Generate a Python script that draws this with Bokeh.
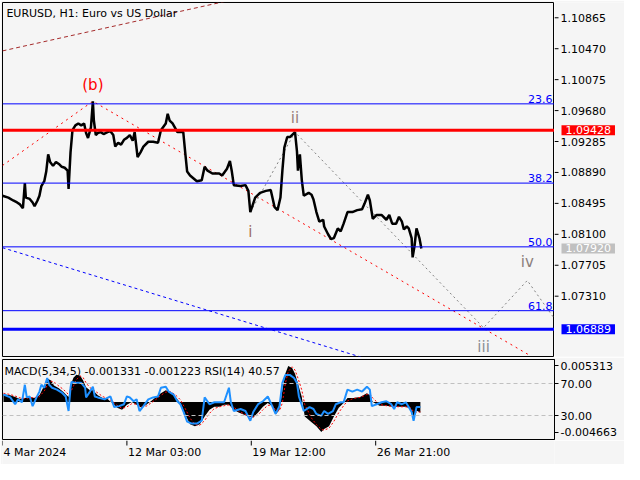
from bokeh.plotting import figure
from bokeh.layouts import column, row
from bokeh.models import Range1d, Span, Label, FixedTicker
from bokeh.core.properties import value
from bokeh.embed import file_html
from bokeh.resources import INLINE

BG = "#f5f5f5"
FONT = "DejaVu Sans"

# ---------------- data ----------------
price_bar = [0, 6, 11, 15, 18, 21, 23, 24, 28, 31, 33, 36, 38, 40, 43, 45, 47, 49, 52, 55,
             58, 61, 64, 67, 68, 70, 72, 75, 78, 81, 84, 86, 88, 91, 93, 94, 96, 98, 101, 104,
             108, 111, 114, 116, 119, 122, 125, 128, 131, 134, 136, 139, 142, 145, 150, 155, 160, 163, 168, 170,
             172, 175, 180, 186, 188, 190, 193, 200, 205, 208, 211, 216, 223, 226, 231, 234, 236, 238, 245, 250,
             253, 255, 260, 265, 271, 276, 280, 283, 286, 288, 290, 293, 296, 301, 303, 304, 306, 308, 310, 315,
             318, 320, 323, 326, 330, 331, 335, 338, 341, 345, 348, 351, 355, 360, 365, 370, 373, 376, 378, 381,
             385, 390, 395, 398, 401, 405, 408, 411, 413, 416, 418, 421, 422, 424, 426, 429, 431]
price_close = [1.08593, 1.08569, 1.08532, 1.08507, 1.08482, 1.08433, 1.08753, 1.08569, 1.08552, 1.08507,
               1.08458, 1.08532, 1.08593, 1.08716, 1.08778, 1.08901, 1.09122, 1.09024, 1.08974, 1.09024,
               1.08999, 1.08962, 1.08950, 1.08913, 1.08679, 1.09147, 1.09430, 1.09491, 1.09516, 1.09491,
               1.09516, 1.09393, 1.09331, 1.09466, 1.09799, 1.09553, 1.09368, 1.09393, 1.09405, 1.09380,
               1.09405, 1.09417, 1.09368, 1.09220, 1.09270, 1.09245, 1.09307, 1.09331, 1.09368, 1.09294,
               1.09405, 1.09085, 1.09147, 1.09220, 1.09282, 1.09282, 1.09270, 1.09430, 1.09516, 1.09639,
               1.09553, 1.09516, 1.09405, 1.09405, 1.09147, 1.08901, 1.08851, 1.08778, 1.08790, 1.08962,
               1.08913, 1.08876, 1.08876, 1.08851, 1.08938, 1.09036, 1.08901, 1.08728, 1.08716, 1.08728,
               1.08655, 1.08384, 1.08569, 1.08630, 1.08655, 1.08667, 1.08446, 1.08409, 1.08569, 1.08913,
               1.09208, 1.09343, 1.09343, 1.09405, 1.09159, 1.08913, 1.09122, 1.08790, 1.08593, 1.08630,
               1.08605, 1.08544, 1.08384, 1.08261, 1.08286, 1.08200, 1.08101, 1.08040, 1.08052, 1.08175,
               1.08138, 1.08236, 1.08384, 1.08384, 1.08409, 1.08421, 1.08507, 1.08605, 1.08532, 1.08298,
               1.08347, 1.08347, 1.08286, 1.08347, 1.08236, 1.08236, 1.08323, 1.08261, 1.08163, 1.08200,
               1.08175, 1.08052, 1.07806, 1.07954, 1.08175, 1.08052, 1.07920]

price_ticks = [1.10865, 1.10470, 1.10075, 1.09680, 1.09285, 1.08890, 1.08495, 1.08100, 1.07705, 1.07310]
price_tick_labels = ["1.10865", "1.10470", "1.10075", "1.09680", "1.09285",
                     "1.08890", "1.08495", "1.08100", "1.07705", "1.07310"]

fib_names = ["23.6", "38.2", "50.0", "61.8"]
fib_prices = [1.09766, 1.08754, 1.07940, 1.07125]
level_red = 1.09428
level_blue = 1.06889
bid_price = 1.07920

upper_bar = [0, 240]
upper_price = [1.10442, 1.11104]
b_bar = [0, 93, 543]
b_price = [1.08979, 1.09799, 1.06551]
lower_bar = [0, 380]
lower_price = [1.07929, 1.06490]
wave_bar = [255, 301, 495, 540, 585]
wave_price = [1.08384, 1.09405, 1.06908, 1.07511, 1.06724]
wave_names = ["i", "ii", "iii", "iv"]

macd_bar = [1, 8, 13, 18, 23, 28, 33, 38, 43, 46, 50, 53, 58, 63, 66, 68, 70, 73, 76, 80,
            83, 86, 90, 93, 98, 103, 108, 113, 118, 123, 128, 133, 138, 143, 148, 153, 158, 163, 168, 173,
            178, 183, 188, 193, 198, 203, 208, 213, 218, 223, 228, 233, 238, 243, 248, 253, 258, 263, 268, 273,
            278, 281, 285, 288, 291, 294, 298, 301, 304, 308, 311, 318, 323, 328, 331, 336, 341, 346, 351, 355,
            361, 368, 375, 378, 381, 388, 395, 401, 408, 415, 420, 423, 426, 430]
macd_main = [0.00099, 0.00087, 0.00063, 0.00039, 0.00051, 0.00063, 0.00051, 0.00087, 0.00208, 0.00293,
             0.00268, 0.00208, 0.00172, 0.00123, 0.00087, 0.00063, 0.00208, 0.00305, 0.00341, 0.00329,
             0.00268, 0.00184, 0.00147, 0.00147, 0.00087, 0.00051, 0.00039, -0.00010, -0.00070, -0.00094,
             -0.00034, 0.00002, -0.00034, -0.00070, -0.00034, 0.00015, 0.00063, 0.00111, 0.00147, 0.00123,
             0.00063, -0.00010, -0.00155, -0.00276, -0.00300, -0.00276, -0.00179, -0.00094, -0.00058, -0.00058,
             -0.00034, -0.00034, -0.00094, -0.00131, -0.00155, -0.00179, -0.00191, -0.00131, -0.00058, -0.00010,
             -0.00058, -0.00155, -0.00094, 0.00147, 0.00353, 0.00450, 0.00426, 0.00353, 0.00232, 0.00063,
             -0.00179, -0.00251, -0.00300, -0.00372, -0.00336, -0.00300, -0.00179, -0.00070, -0.00010, 0.00051,
             0.00051, 0.00063, 0.00111, 0.00087, 0.00002, -0.00046, -0.00046, -0.00058, -0.00058, -0.00058,
             -0.00082, -0.00179, -0.00106, -0.00133]
macd_signal = [0.00110, 0.00095, 0.00075, 0.00052, 0.00046, 0.00055, 0.00056, 0.00068, 0.00140, 0.00210,
               0.00262, 0.00250, 0.00200, 0.00155, 0.00118, 0.00095, 0.00120, 0.00200, 0.00280, 0.00325,
               0.00305, 0.00240, 0.00180, 0.00155, 0.00115, 0.00070, 0.00045, 0.00012, -0.00040, -0.00080,
               -0.00060, -0.00020, -0.00025, -0.00055, -0.00050, -0.00010, 0.00035, 0.00085, 0.00125, 0.00130,
               0.00090, 0.00030, -0.00080, -0.00200, -0.00280, -0.00290, -0.00230, -0.00140, -0.00080, -0.00060,
               -0.00045, -0.00035, -0.00065, -0.00110, -0.00145, -0.00170, -0.00185, -0.00160, -0.00095, -0.00040,
               -0.00040, -0.00100, -0.00110, -0.00010, 0.00230, 0.00380, 0.00440, 0.00400, 0.00300, 0.00150,
               -0.00030, -0.00200, -0.00280, -0.00340, -0.00350, -0.00325, -0.00240, -0.00130, -0.00045, 0.00015,
               0.00045, 0.00058, 0.00095, 0.00100, 0.00050, -0.00030, -0.00045, -0.00052, -0.00058, -0.00058,
               -0.00070, -0.00120, -0.00125, -0.00122]

rsi_bar = [1, 8, 13, 16, 20, 23, 25, 28, 31, 35, 38, 40, 43, 46, 48, 51, 56, 61, 65, 68,
           70, 71, 76, 81, 85, 86, 90, 93, 95, 98, 105, 111, 115, 120, 125, 128, 131, 135, 138, 141,
           145, 150, 155, 160, 163, 168, 171, 176, 180, 183, 186, 190, 195, 200, 205, 208, 213, 218, 228, 233,
           235, 238, 245, 250, 255, 258, 263, 268, 273, 278, 281, 285, 288, 291, 296, 300, 303, 305, 310, 316,
           320, 323, 328, 331, 335, 340, 343, 348, 351, 355, 360, 365, 370, 375, 378, 380, 385, 390, 395, 400,
           403, 406, 411, 415, 418, 421, 423, 426, 430]
rsi_val = [56.2, 52.6, 44.1, 50.2, 46.5, 68.4, 52.6, 53.8, 41.7, 52.6, 59.9, 68.4, 64.7, 76.8, 68.4, 64.7, 62.3, 58.7, 53.8, 35.6,
           64.7, 72.0, 70.8, 70.8, 64.7, 52.6, 59.9, 65.9, 53.8, 52.6, 50.2, 53.8, 40.5, 41.7, 44.1, 53.8, 52.6, 47.8, 50.2, 35.6,
           41.7, 50.2, 52.6, 53.8, 64.7, 65.9, 59.9, 56.2, 47.8, 44.1, 35.6, 22.3, 19.9, 19.9, 23.5, 52.6, 44.1, 46.5, 46.5, 64.7,
           46.5, 35.6, 38.1, 35.6, 23.5, 34.4, 44.1, 47.8, 53.8, 40.5, 32.0, 41.7, 70.8, 80.5, 80.5, 76.8, 70.8, 53.8, 35.6, 40.5,
           38.1, 32.0, 29.6, 35.6, 32.0, 35.6, 44.1, 46.5, 46.5, 62.3, 59.9, 62.3, 59.9, 65.9, 62.3, 41.7, 44.1, 46.5, 47.8, 44.1,
           38.1, 46.5, 44.1, 46.5, 40.5, 34.4, 23.5, 40.5, 40.6]
rsi_levels = [70, 30]

x_tick_bars = [0, 128, 256, 384]
x_tick_labels = ["4 Mar 2024", "12 Mar 03:00", "19 Mar 12:00", "26 Mar 21:00"]

X_END = 568
Y_MIN, Y_MAX = 1.0654, 1.1106

W = 624
BL, BR = 2, 70
FRAME_W = W - BL - BR
MAIN_H, MAIN_BT, MAIN_BB = 357, 2, 1

# ---------------- main pane (chart part) ----------------
p = figure(width=BL + FRAME_W, height=MAIN_H, x_range=Range1d(0, X_END), y_range=Range1d(Y_MIN, Y_MAX),
           y_axis_location=None, x_axis_location=None, toolbar_location=None,
           output_backend="svg", min_border_left=BL, min_border_right=0,
           min_border_top=MAIN_BT, min_border_bottom=MAIN_BB,
           background_fill_color=BG, border_fill_color=BG, outline_line_color="black")
p.grid.visible = False

for fp in fib_prices:
    p.add_layout(Span(location=fp, dimension="width", line_color="#0000ff", line_width=1))
p.add_layout(Span(location=level_red, dimension="width", line_color="#ff0000", line_width=3))
p.add_layout(Span(location=level_blue, dimension="width", line_color="#0000ff", line_width=3))

p.line(upper_bar, upper_price, line_color="#a52a2a", line_width=1, line_dash="4 3")
p.line(lower_bar, lower_price, line_color="#0000ff", line_width=1, line_dash="3 3")
p.line(b_bar, b_price, line_color="#ff0000", line_width=1, line_dash="2 4")
p.line(wave_bar, wave_price, line_color="#808080", line_width=1, line_dash="2 3")
p.line(price_bar, price_close, line_color="black", line_width=2.5)

for name, fp in zip(fib_names, fib_prices):
    p.add_layout(Label(x=X_END, y=fp, x_offset=-2, y_offset=1, text=name, text_align="right",
                       text_baseline="bottom", text_color="#0000ff", text_font=FONT,
                       text_font_size="11px"))

p.add_layout(Label(x=b_bar[1], y=b_price[1], y_offset=7, text="(b)", text_align="center",
                   text_baseline="bottom", text_color="#ff0000", text_font=FONT, text_font_size="15px"))
wave_offsets = [-11, 5, -10, 9]
wave_baselines = ["top", "bottom", "top", "bottom"]
wave_colors = ["#a0705f", "#9a7f7a", "#8c8f95", "#8c7f7c"]
for name, bx, by, off, bl, wc in zip(wave_names, wave_bar, wave_price, wave_offsets, wave_baselines, wave_colors):
    p.add_layout(Label(x=bx, y=by, y_offset=off, text=name, text_align="center", text_baseline=bl,
                       text_color=wc, text_font=FONT, text_font_size="15px"))

p.add_layout(Label(x=4, y=Y_MAX, y_offset=-4, text="EURUSD, H1:  Euro vs US Dollar",
                   text_align="left", text_baseline="top", text_color="black",
                   text_font=FONT, text_font_size="11px"))

# ---------------- main pane (price scale part) ----------------
SCALE_W = BR
ps = figure(width=SCALE_W, height=MAIN_H, x_range=Range1d(0, SCALE_W), y_range=p.y_range,
            y_axis_location=None, x_axis_location=None, toolbar_location=None,
            output_backend="svg", min_border_left=0, min_border_right=0,
            min_border_top=MAIN_BT, min_border_bottom=MAIN_BB,
            background_fill_color=BG, border_fill_color=BG, outline_line_color=None)
ps.grid.visible = False
ps.segment(x0=[0] * len(price_ticks), y0=price_ticks, x1=[4] * len(price_ticks), y1=price_ticks,
           line_color="black", line_width=1)
ps.text(x=[6] * len(price_ticks), y=price_ticks, text=price_tick_labels, text_align="left",
        text_baseline="middle", text_color="black", text_font=value(FONT),
        text_font_size=value("11px"))
for val, bg in [(level_red, "#ff0000"), (bid_price, "#c0c0c0"), (level_blue, "#0000ff")]:
    ps.add_layout(Label(x=3, y=val, x_offset=4, text=f"{val:.5f}", text_align="left",
                        text_baseline="middle", text_color="white", text_font=FONT,
                        text_font_size="11px", background_fill_color=bg, padding=(4, 1)))

# ---------------- indicator pane ----------------
q = figure(width=W, height=83, x_range=p.x_range, y_range=Range1d(0, 100),
           y_axis_location="right", x_axis_location=None, toolbar_location=None,
           output_backend="svg", min_border_left=BL, min_border_right=BR,
           min_border_top=2, min_border_bottom=1,
           background_fill_color=BG, border_fill_color=BG, outline_line_color="black")
q.grid.visible = False
q.extra_y_ranges = {"macd": Range1d(-0.004663, 0.005313)}

for lv in rsi_levels:
    q.add_layout(Span(location=lv, dimension="width", line_color="#c0c0c0", line_width=1,
                      line_dash="4 3"))
q.varea(x=macd_bar, y1=0, y2=macd_main, y_range_name="macd", fill_color="black")
q.line(macd_bar, macd_signal, y_range_name="macd", line_color="#ff0000", line_width=1,
       line_dash="2 2")
q.line(rsi_bar, rsi_val, line_color="#1e90ff", line_width=2)

qa = q.yaxis[0]
qa.ticker = FixedTicker(ticks=[92, 70, 30, 9])
qa.major_label_overrides = {92: "0.005313", 70: "70.00", 30: "30.00", 9: "-0.004663"}
qa.axis_line_color = "black"
qa.major_tick_line_color = "black"
qa.major_tick_out = 4
qa.major_tick_in = 0
qa.minor_tick_line_color = None
qa.major_label_text_font = FONT
qa.major_label_text_font_size = "11px"
qa.major_label_text_color = "black"
qa.major_label_standoff = 2

q.add_layout(Label(x=2, y=100, y_offset=-5, text="MACD(5,34,5) -0.001331 -0.001223 RSI(14) 40.57",
                   text_align="left", text_baseline="top", text_color="black",
                   text_font=FONT, text_font_size="11px"))

# ---------------- time-axis strip ----------------
STRIP_H = 24
s = figure(width=W, height=STRIP_H, x_range=p.x_range, y_range=Range1d(0, STRIP_H),
           x_axis_location=None, y_axis_location=None, toolbar_location=None,
           output_backend="svg", min_border_left=BL, min_border_right=BR,
           min_border_top=0, min_border_bottom=0,
           background_fill_color=BG, border_fill_color=BG, outline_line_color=None)
s.grid.visible = False
s.segment(x0=x_tick_bars, y0=[STRIP_H] * len(x_tick_bars), x1=x_tick_bars,
          y1=[STRIP_H - 5] * len(x_tick_bars), line_color="black", line_width=1)
for tb, tl in zip(x_tick_bars, x_tick_labels):
    s.add_layout(Label(x=tb, y=STRIP_H - 12, x_offset=1, text=tl, text_align="left",
                       text_baseline="middle", text_color="black", text_font=FONT,
                       text_font_size="11px"))

layout = column(row(p, ps, spacing=0), q, s, spacing=0)
open("out.html", "w").write(file_html(layout, INLINE))
